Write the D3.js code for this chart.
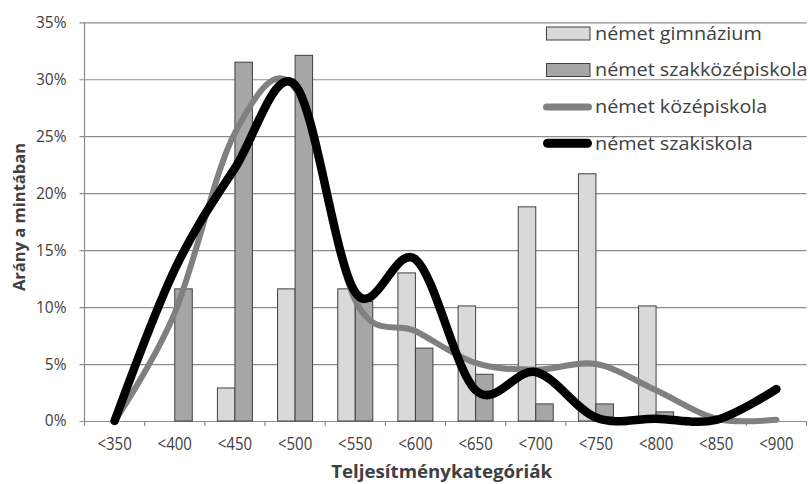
<!DOCTYPE html>
<html>
<head>
<meta charset="utf-8">
<script src="https://cdnjs.cloudflare.com/ajax/libs/d3/7.8.5/d3.min.js"></script>
<style>
  body { margin: 0; background: #fff; }
  text { font-family: "Open Sans", sans-serif; fill: #404040; }
</style>
</head>
<body>
<div id="chart"></div>
<script>
// categories and values (percent)
var categories = ["<350", "<400", "<450", "<500", "<550", "<600", "<650", "<700", "<750", "<800", "<850", "<900"];
var gimnazium = [0, 0, 2.9, 11.6, 11.6, 13.0, 10.1, 18.8, 21.7, 10.1, 0, 0];
var szakkozep = [0, 11.6, 31.5, 32.1, 10.5, 6.4, 4.1, 1.5, 1.5, 0.8, 0, 0];
var kozepiskola = [0, 9.5, 25.3, 29.2, 10.6, 7.9, 5.1, 4.5, 5.0, 2.7, 0.2, 0.1];
var szakiskola = [0, 13.3, 22.2, 29.5, 11.3, 14.2, 2.7, 4.3, 0.3, 0.2, 0.1, 2.8];
var yTicks = [0, 5, 10, 15, 20, 25, 30, 35];
var seriesNames = ["német gimnázium", "német szakközépiskola", "német középiskola", "német szakiskola"];

// dimensions of the plot area
var width = 808, height = 484;
var plot = {left: 84.5, right: 806.5, top: 22.3, bottom: 421};

var svg = d3.select("#chart")
    .append("svg")
    .attr("width", width)
    .attr("height", height);

svg.append("rect").attr("width", width).attr("height", height).attr("fill", "#fff");

var x = d3.scaleBand()
    .domain(categories)
    .range([plot.left, plot.right])
    .padding(0);

var y = d3.scaleLinear()
    .domain([0, 35])
    .range([plot.bottom, plot.top]);

var barW = 17.5;

// gridlines + y axis labels
var yAxis = svg.append("g")
    .attr("transform", "translate(" + plot.left + ",0)")
    .call(d3.axisLeft(y).tickValues(yTicks).tickSize(-(plot.right - plot.left)).tickPadding(18)
        .tickFormat(function(d) { return d + "%"; }));
yAxis.select(".domain").remove();
yAxis.selectAll(".tick line")
    .attr("x1", -5)
    .attr("stroke", "#8c8c8c")
    .attr("stroke-width", 1.2);
yAxis.selectAll(".tick text")
    .style("font-size", "15.5px")
    .attr("fill", "#404040");

// y axis line
svg.append("line")
    .attr("x1", plot.left).attr("x2", plot.left)
    .attr("y1", plot.top).attr("y2", plot.bottom)
    .attr("stroke", "#8c8c8c").attr("stroke-width", 1.2);

// x axis labels
var xAxis = svg.append("g")
    .attr("transform", "translate(0," + plot.bottom + ")")
    .call(d3.axisBottom(x).tickSize(0).tickPadding(17));
xAxis.select(".domain").attr("stroke", "#8c8c8c").attr("stroke-width", 1.2);
xAxis.selectAll(".tick text")
    .style("font-size", "17.5px")
    .attr("fill", "#404040")
    .attr("transform", "scale(0.86,1)");

// x tick marks at category boundaries
var bounds = categories.map(function(c) { return x(c); }).concat([plot.right]);
svg.append("g").selectAll("line")
    .data(bounds)
    .enter().append("line")
    .attr("x1", function(d) { return d; })
    .attr("x2", function(d) { return d; })
    .attr("y1", plot.bottom)
    .attr("y2", plot.bottom + 5)
    .attr("stroke", "#8c8c8c")
    .attr("stroke-width", 1.2);

// bars
var barData = [];
categories.forEach(function(c, i) {
    barData.push({cat: c, v: gimnazium[i], off: -barW, fill: "#d9d9d9"});
    barData.push({cat: c, v: szakkozep[i], off: 0, fill: "#a6a6a6"});
});
svg.append("g").selectAll("rect")
    .data(barData.filter(function(d) { return d.v > 0; }))
    .enter().append("rect")
    .attr("x", function(d) { return x(d.cat) + x.bandwidth() / 2 + d.off; })
    .attr("y", function(d) { return y(d.v); })
    .attr("width", barW)
    .attr("height", function(d) { return y(0) - y(d.v); })
    .attr("fill", function(d) { return d.fill; })
    .attr("stroke", "#404040")
    .attr("stroke-width", 1);

// smoothed lines
var line = d3.line()
    .x(function(d, i) { return x(categories[i]) + x.bandwidth() / 2; })
    .y(function(d) { return y(d); })
    .curve(d3.curveCardinal.tension(0));

svg.append("path")
    .datum(kozepiskola)
    .attr("d", line)
    .attr("fill", "none")
    .attr("stroke", "#808080")
    .attr("stroke-width", 6)
    .attr("stroke-linecap", "round");

svg.append("path")
    .datum(szakiskola)
    .attr("d", line)
    .attr("fill", "none")
    .attr("stroke", "#000")
    .attr("stroke-width", 8.5)
    .attr("stroke-linecap", "round");

// legend
var legend = svg.append("g");
var rowY = [33.5, 70, 107, 143.3];
var legendStyle = [
    {type: "bar", fill: "#d9d9d9"},
    {type: "bar", fill: "#a6a6a6"},
    {type: "line", stroke: "#808080", w: 7},
    {type: "line", stroke: "#000", w: 9}
];
seriesNames.forEach(function(name, i) {
    var st = legendStyle[i];
    if (st.type == "bar") {
        legend.append("rect")
            .attr("x", 546.5).attr("y", rowY[i] - 6.5)
            .attr("width", 43.5).attr("height", 13)
            .attr("fill", st.fill)
            .attr("stroke", "#404040").attr("stroke-width", 1);
    } else {
        legend.append("line")
            .attr("x1", 543 + st.w / 2).attr("x2", 592 - st.w / 2)
            .attr("y1", rowY[i]).attr("y2", rowY[i])
            .attr("stroke", st.stroke).attr("stroke-width", st.w)
            .attr("stroke-linecap", "round");
    }
    legend.append("text")
        .attr("transform", "translate(595," + rowY[i] + ") scale(1.1,1)")
        .attr("dy", "0.35em")
        .style("font-size", "18px")
        .attr("fill", "#000")
        .text(name);
});

// axis titles
svg.append("text")
    .attr("transform", "translate(441.7,472) scale(1.1,1)")
    .attr("dy", "0.35em")
    .attr("text-anchor", "middle")
    .style("font-size", "17px")
    .style("font-weight", "bold")
    .attr("fill", "#000")
    .text("Teljesítménykategóriák");

svg.append("text")
    .attr("transform", "translate(19,217) rotate(-90)")
    .attr("dy", "0.35em")
    .attr("text-anchor", "middle")
    .style("font-size", "16.5px")
    .style("font-weight", "bold")
    .attr("fill", "#000")
    .text("Arány a mintában");
</script>
</body>
</html>
